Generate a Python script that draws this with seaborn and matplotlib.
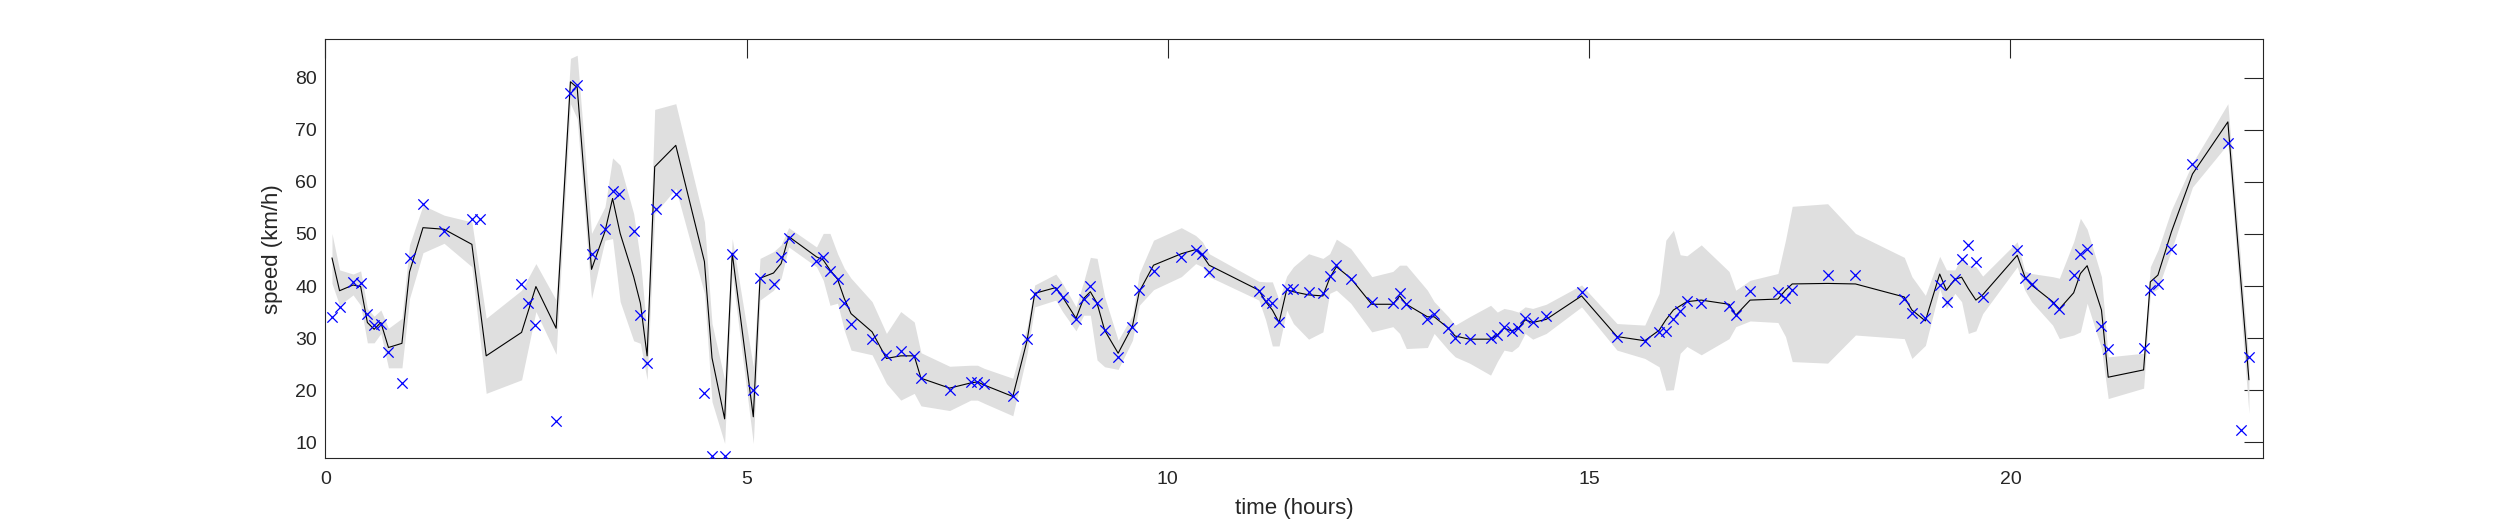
import numpy as np
import pandas as pd
import matplotlib
matplotlib.use("Agg")
import matplotlib.pyplot as plt
import seaborn as sns

# smoothed speed estimate (time grid, mean, lower / upper band)
fit_time = [0.08, 0.17, 0.33, 0.42, 0.50, 0.58, 0.66, 0.75, 0.91, 1.00,
            1.16, 1.41, 1.74, 1.91, 2.33, 2.50, 2.74, 2.91, 2.99, 3.16,
            3.32, 3.41, 3.50, 3.66, 3.74, 3.82, 3.91, 4.16, 4.50, 4.59,
            4.74, 4.83, 5.08, 5.16, 5.32, 5.41, 5.50, 5.83, 5.91, 5.99,
            6.08, 6.16, 6.24, 6.49, 6.66, 6.83, 6.99, 7.07, 7.41, 7.66,
            7.74, 7.82, 8.16, 8.33, 8.42, 8.67, 8.75, 8.91, 9.00, 9.08,
            9.16, 9.25, 9.41, 9.58, 9.66, 9.83, 10.16, 10.33, 10.41, 10.49,
            11.08, 11.16, 11.24, 11.32, 11.41, 11.49, 11.67, 11.84, 11.92, 12.00,
            12.17, 12.42, 12.67, 12.75, 12.83, 13.08, 13.16, 13.33, 13.41, 13.58,
            13.83, 13.91, 13.99, 14.08, 14.16, 14.24, 14.33, 14.49, 14.91, 15.33,
            15.66, 15.83, 15.91, 16.00, 16.08, 16.16, 16.33, 16.66, 16.74, 16.91,
            17.24, 17.33, 17.41, 17.83, 18.16, 18.74, 18.83, 18.99, 19.16, 19.24,
            19.34, 19.42, 19.50, 19.59, 19.67, 20.08, 20.17, 20.25, 20.50, 20.58,
            20.75, 20.83, 20.91, 21.08, 21.16, 21.58, 21.66, 21.75, 21.91, 22.16,
            22.58, 22.83]
fit_mean = [45.4, 39.1, 40.2, 39.9, 33.0, 31.7, 33.0, 28.2, 29.0, 42.7,
            51.2, 50.9, 48.0, 26.6, 31.1, 39.9, 31.9, 79.2, 78.1, 43.2,
            50.5, 56.8, 50.1, 41.8, 36.7, 26.6, 62.9, 67.0, 44.7, 26.2,
            14.5, 46.3, 14.9, 41.5, 42.5, 44.3, 49.5, 45.6, 45.0, 43.1,
            41.3, 37.6, 34.7, 31.2, 26.1, 26.6, 26.6, 22.3, 20.4, 21.4,
            21.6, 21.0, 18.8, 29.6, 38.6, 39.7, 37.9, 33.8, 37.6, 38.9,
            36.7, 31.5, 27.1, 32.3, 38.9, 44.0, 46.2, 47.0, 45.9, 44.0,
            39.2, 37.0, 35.4, 33.0, 39.3, 38.9, 38.3, 38.1, 41.5, 43.7,
            41.5, 36.5, 36.5, 38.1, 36.5, 34.1, 34.1, 31.9, 30.4, 29.8,
            29.8, 30.6, 31.9, 31.4, 31.9, 33.5, 33.0, 33.6, 38.1, 30.3,
            29.5, 31.5, 33.5, 35.4, 36.2, 37.0, 37.3, 36.5, 34.4, 37.3,
            37.5, 39.2, 40.4, 40.5, 40.4, 37.9, 35.4, 33.3, 42.3, 39.2,
            41.3, 41.7, 39.5, 37.3, 38.3, 45.9, 41.8, 40.2, 37.0, 35.6,
            38.7, 42.4, 43.9, 35.4, 22.5, 23.9, 40.8, 42.1, 50.4, 61.5,
            71.5, 22.0]
fit_lo = [40.5, 36.3, 38.3, 36.3, 29.1, 29.1, 30.9, 24.3, 24.3, 37.6,
          46.4, 48.2, 43.7, 19.4, 22.0, 35.1, 26.9, 75.0, 72.1, 37.6,
          48.8, 49.1, 37.0, 29.5, 29.0, 22.0, 53.9, 58.7, 38.6, 17.8,
          9.8, 42.4, 9.8, 37.3, 39.2, 41.5, 47.5, 43.7, 41.1, 36.3,
          36.7, 31.5, 27.7, 26.8, 21.3, 18.1, 19.4, 17.0, 16.1, 18.1,
          18.1, 17.5, 15.1, 27.1, 36.0, 37.3, 35.1, 31.4, 34.4, 34.4,
          25.8, 24.5, 24.0, 29.6, 36.3, 39.3, 41.8, 44.3, 43.7, 41.8,
          37.3, 33.5, 28.5, 28.5, 35.4, 32.8, 29.8, 31.2, 38.6, 39.2,
          36.7, 31.2, 32.2, 30.9, 28.0, 28.2, 30.9, 27.7, 26.4, 25.2,
          22.9, 25.5, 27.7, 27.4, 28.4, 30.9, 29.8, 30.9, 36.0, 27.7,
          26.1, 24.5, 20.0, 20.1, 27.1, 28.4, 26.8, 29.9, 32.2, 33.3,
          33.0, 30.3, 25.5, 25.2, 30.6, 29.9, 26.1, 28.6, 39.5, 35.7,
          38.6, 37.0, 30.9, 31.4, 34.7, 43.7, 39.2, 37.0, 32.5, 29.9,
          30.6, 31.2, 36.7, 28.0, 18.4, 20.4, 38.6, 39.5, 46.9, 59.0,
          67.3, 15.6]
fit_hi = [50.1, 43.1, 42.3, 42.9, 35.7, 34.2, 35.4, 31.9, 33.8, 47.9,
          55.5, 53.6, 52.3, 33.8, 39.2, 44.3, 37.3, 83.7, 84.3, 50.1,
          55.2, 64.6, 63.2, 53.9, 45.0, 30.9, 73.9, 75.0, 52.3, 32.8,
          22.0, 49.1, 24.5, 45.3, 46.6, 47.9, 51.2, 47.5, 50.1, 50.1,
          46.2, 43.4, 41.5, 37.0, 30.9, 35.1, 33.1, 27.2, 24.6, 24.8,
          24.8, 24.2, 22.3, 32.2, 40.2, 42.3, 40.5, 36.0, 40.8, 45.5,
          45.3, 37.9, 29.6, 34.4, 42.4, 48.8, 51.2, 49.7, 48.5, 46.2,
          40.9, 40.8, 40.8, 37.3, 41.9, 43.7, 46.2, 45.3, 46.2, 49.0,
          47.2, 41.8, 42.8, 44.0, 44.0, 39.2, 37.0, 34.1, 32.5, 34.1,
          36.3, 35.0, 35.7, 35.4, 35.0, 36.0, 35.7, 36.5, 40.2, 32.8,
          32.5, 38.6, 48.8, 50.7, 46.0, 45.8, 47.9, 42.8, 39.2, 41.1,
          42.4, 48.8, 55.3, 55.8, 50.1, 45.5, 41.8, 38.2, 45.7, 43.1,
          43.1, 45.6, 44.0, 43.7, 41.9, 48.5, 42.9, 42.4, 41.8, 41.5,
          48.5, 53.0, 50.9, 41.8, 26.4, 27.1, 43.7, 46.9, 54.6, 63.6,
          75.0, 25.5]

# observed speeds (crosses)
obs_time = [0.08, 0.17, 0.33, 0.42, 0.50, 0.58, 0.66, 0.75, 0.91, 1.00,
            1.16, 1.41, 1.74, 1.84, 2.32, 2.41, 2.49, 2.74, 2.91, 2.99,
            3.16, 3.32, 3.41, 3.49, 3.66, 3.74, 3.82, 3.92, 4.16, 4.50,
            4.59, 4.74, 4.83, 5.08, 5.16, 5.32, 5.41, 5.50, 5.83, 5.91,
            5.99, 6.08, 6.16, 6.24, 6.49, 6.66, 6.83, 6.99, 7.07, 7.41,
            7.66, 7.74, 7.82, 8.16, 8.33, 8.42, 8.67, 8.75, 8.91, 9.00,
            9.08, 9.16, 9.25, 9.41, 9.58, 9.66, 9.83, 10.16, 10.33, 10.41,
            10.49, 11.08, 11.16, 11.24, 11.32, 11.41, 11.49, 11.67, 11.84, 11.92,
            12.00, 12.17, 12.42, 12.67, 12.75, 12.83, 13.08, 13.16, 13.33, 13.41,
            13.58, 13.83, 13.91, 13.99, 14.08, 14.16, 14.24, 14.33, 14.49, 14.91,
            15.33, 15.66, 15.83, 15.91, 16.00, 16.08, 16.16, 16.33, 16.66, 16.74,
            16.91, 17.24, 17.33, 17.41, 17.83, 18.16, 18.74, 18.83, 18.99, 19.16,
            19.25, 19.34, 19.42, 19.50, 19.59, 19.67, 20.08, 20.17, 20.25, 20.50,
            20.58, 20.75, 20.83, 20.91, 21.08, 21.16, 21.58, 21.66, 21.75, 21.91,
            22.16, 22.58, 22.74, 22.83]
obs_speed = [34.0, 36.0, 40.8, 40.6, 34.7, 32.5, 32.8, 27.3, 21.3, 45.4,
             55.7, 50.5, 52.9, 52.9, 40.3, 36.7, 32.6, 14.1, 77.1, 78.5,
             46.2, 51.0, 58.2, 57.6, 50.5, 34.4, 25.2, 54.8, 57.6, 19.4,
             7.4, 7.4, 46.1, 20.0, 41.6, 40.4, 45.5, 49.3, 44.8, 45.5,
             42.9, 41.3, 36.8, 32.8, 29.8, 26.8, 27.6, 26.6, 22.3, 20.0,
             21.6, 21.6, 21.1, 18.8, 29.8, 38.4, 39.5, 37.8, 33.7, 37.5,
             40.0, 36.7, 31.5, 26.4, 32.1, 39.2, 42.9, 45.6, 46.9, 46.1,
             42.7, 39.1, 37.1, 36.7, 33.1, 39.5, 39.5, 38.8, 38.6, 42.0,
             44.0, 41.4, 36.9, 36.7, 38.7, 36.5, 33.7, 34.6, 32.0, 30.1,
             29.8, 30.0, 30.6, 32.2, 31.4, 31.9, 33.9, 33.1, 34.2, 38.8,
             30.3, 29.5, 31.2, 31.4, 33.6, 35.3, 37.1, 36.7, 36.2, 34.4,
             39.0, 38.9, 37.7, 39.2, 42.1, 42.1, 37.5, 34.9, 33.8, 40.2,
             37.0, 41.3, 45.1, 47.8, 44.7, 37.9, 46.9, 41.6, 40.3, 36.8,
             35.6, 42.1, 46.1, 47.1, 32.4, 28.0, 28.2, 39.2, 40.3, 47.1,
             63.5, 67.5, 12.3, 26.3]

fit = pd.DataFrame({"time": fit_time, "mean": fit_mean, "lo": fit_lo, "hi": fit_hi})
obs = pd.DataFrame({"time": obs_time, "speed": obs_speed})

sns.set_style("white")
plt.rcParams["font.family"] = ["Liberation Sans", "DejaVu Sans"]
txt = "#262626"

fig = plt.figure(figsize=(25, 5.21), dpi=100)
ax = fig.add_axes([0.1301, 0.1203, 0.7752, 0.8042])

# grey band, then the estimate, then the raw points on top
ax.fill_between(fit["time"], fit["lo"], fit["hi"], color="#dfdfdf", linewidth=0, zorder=1)
sns.lineplot(data=fit, x="time", y="mean", color="black", linewidth=0.8,
             estimator=None, sort=False, ax=ax, zorder=2)
sns.scatterplot(data=obs, x="time", y="speed", marker="x", color="blue",
                s=55, linewidth=0.9, ax=ax, zorder=3)

ax.set_xlim(0, 23)
ax.set_ylim(6.93, 87.35)
ax.set_xticks([0, 5, 10, 15, 20])
ax.set_yticks([10, 20, 30, 40, 50, 60, 70, 80])
ax.tick_params(direction="in", length=13.5, width=0.8, colors=txt,
               labelsize=14, top=True, right=True)
ax.tick_params(axis="x", pad=9)
ax.tick_params(axis="y", pad=6)
for sp in ax.spines.values():
    sp.set_visible(True)
    sp.set_color(txt)
    sp.set_linewidth(0.8)

ax.set_xlabel("time (hours)", fontsize=16, color=txt)
ax.set_ylabel("speed (km/h)", fontsize=16, color=txt)
ax.xaxis.set_label_coords(0.5, -0.095)
ax.yaxis.set_label_coords(-0.022, 0.5)

fig.savefig("out.png", dpi=100, facecolor="white")
